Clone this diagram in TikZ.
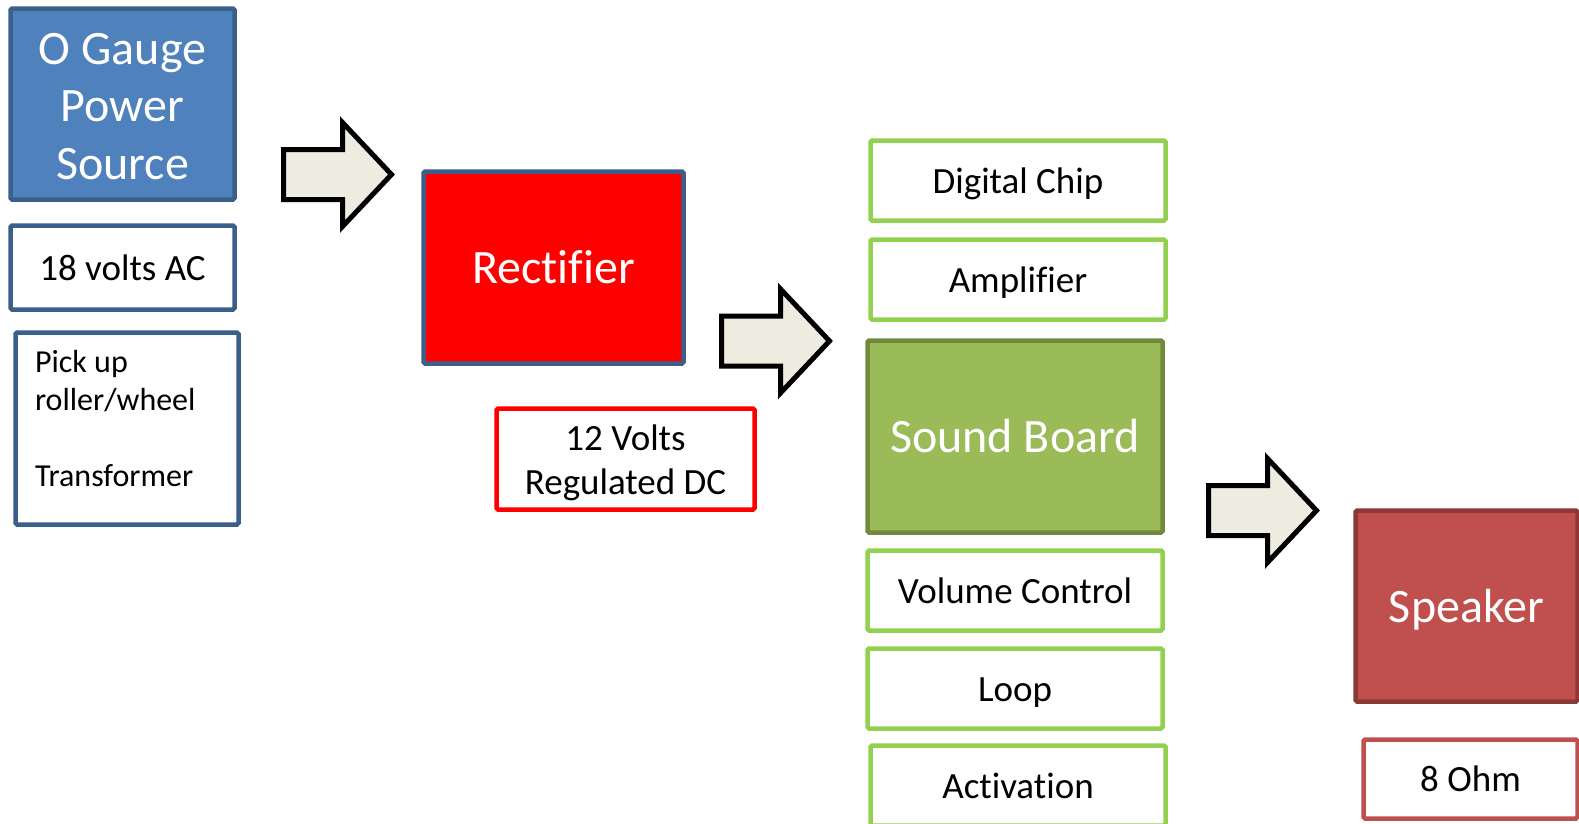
\documentclass[tikz,border=0pt]{standalone}
\usepackage{fontspec}
\setmainfont{Carlito}[Ligatures=NoCommon]
\definecolor{bluefill}{HTML}{4F81BD}
\definecolor{bluedark}{HTML}{3A5F8B}
\definecolor{redfill}{HTML}{FF0000}
\definecolor{greenline}{HTML}{92D050}
\definecolor{greenfill}{HTML}{9BBB59}
\definecolor{greendark}{HTML}{71893F}
\definecolor{spkfill}{HTML}{C0504D}
\definecolor{spkdark}{HTML}{8C3836}
\definecolor{arrowfill}{HTML}{EEECE1}
\tikzset{
  box/.style={draw, line width=4.5pt, rounded corners=1.5pt, inner sep=0pt, align=center},
  bigtext/.style={font=\fontsize{48}{57.5}\selectfont, text=white},
  smalltext/.style={font=\fontsize{37}{44}\selectfont, text=black},
  smallone/.style={smalltext, text height=32.5pt, text depth=7.5pt},
  bigone/.style={bigtext, text height=40pt, text depth=8pt},
  blockarrow/.style={draw=black, fill=arrowfill, line width=5pt, miter limit=10},
  barrow/.pic={\draw[blockarrow] (0,-25) -- (59,-25) -- (59,-52) -- (108,0) -- (59,52) -- (59,25) -- (0,25) -- cycle;}
}
\begin{document}
\begin{tikzpicture}[x=1pt,y=-1pt]
\useasboundingbox (0,0) rectangle (1579,823);
\clip (0,0) rectangle (1579,823);
\fill[white] (0,0) rectangle (1579,823);

% left column
\node[box, draw=bluedark, fill=bluefill, bigtext, minimum width=224pt, minimum height=191pt] (src) at (122.5,104) {\rule{0pt}{36pt}O Gauge\\Power\\Source};
\node[box, draw=bluedark, fill=white, smallone, minimum width=224pt, minimum height=84pt] (ac) at (122.5,267.5) {18 volts AC};
\node[box, draw=bluedark, fill=white, font=\fontsize{32}{38}\selectfont, minimum width=223pt, minimum height=192pt] (pick) at (127,428.5)
  {\parbox[c][157pt][t]{184pt}{\raggedright Pick up\\roller/wheel\\[38pt]Transformer}};

% rectifier
\node[box, draw=bluedark, fill=redfill, bigone, minimum width=260pt, minimum height=192pt] (rect) at (553.5,267.5) {Rectifier};
\node[box, draw=redfill, fill=white, smalltext, minimum width=258pt, minimum height=101pt] (v12) at (625.5,459) {\rule{0pt}{33pt}12 Volts\\Regulated DC};

% sound board column
\node[box, draw=greenline, fill=white, smallone, minimum width=295pt, minimum height=80pt] (chip) at (1018,180.5) {Digital Chip};
\node[box, draw=greenline, fill=white, smallone, minimum width=295pt, minimum height=80pt] (amp) at (1018,279.5) {Amplifier};
\node[box, draw=greendark, fill=greenfill, bigone, minimum width=295pt, minimum height=192pt] (sb) at (1015,436.5) {Sound Board};
\node[box, draw=greenline, fill=white, smallone, minimum width=295pt, minimum height=80pt] (vol) at (1015,590.5) {Volume Control};
\node[box, draw=greenline, fill=white, smallone, minimum width=295pt, minimum height=80pt] (loop) at (1015,688.5) {Loop};
\node[box, draw=greenline, fill=white, smallone, minimum width=295pt, minimum height=80pt] (act) at (1018,785.5) {Activation};

% speaker
\node[box, draw=spkdark, fill=spkfill, bigone, minimum width=222pt, minimum height=191pt] (spk) at (1466.5,606) {Speaker};
\node[box, draw=spkfill, fill=white, smallone, minimum width=214pt, minimum height=79pt] (ohm) at (1470.5,779) {8 Ohm};

% block arrows
\pic (a1) at (283.5,174.5) {barrow};
\pic (a2) at (721.5,341) {barrow};
\pic (a3) at (1208.5,510.5) {barrow};
\end{tikzpicture}
\end{document}
